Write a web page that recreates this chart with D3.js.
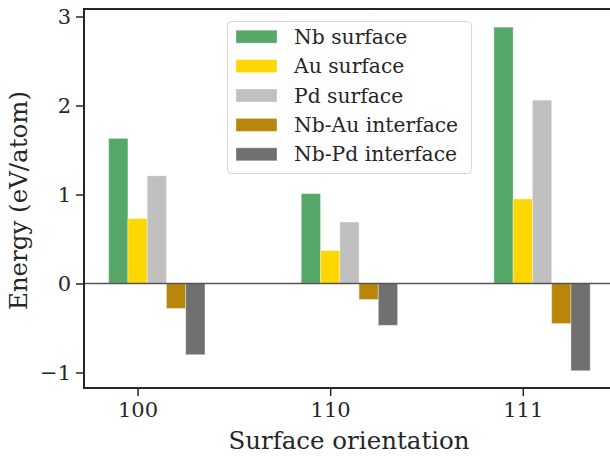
<!DOCTYPE html>
<html>
<head>
<meta charset="utf-8">
<script src="https://cdn.jsdelivr.net/npm/d3@7"></script>
<style>
body { margin: 0; background: #fff; }
svg { display: block; }
text { font-family: "DejaVu Serif", serif; fill: #262626; }
</style>
</head>
<body>
<svg id="chart" width="610" height="458"></svg>
<script>
const categories = ["100", "110", "111"];
const seriesNames = ["Nb surface", "Au surface", "Pd surface", "Nb-Au interface", "Nb-Pd interface"];
const seriesColors = ["#55a868", "#ffd700", "#c0c0c0", "#b8860b", "#707070"];
const nbSurface = [1.63, 1.01, 2.88];
const auSurface = [0.73, 0.37, 0.95];
const pdSurface = [1.21, 0.69, 2.06];
const nbAuInterface = [-0.28, -0.18, -0.45];
const nbPdInterface = [-0.80, -0.47, -0.98];
const yTicks = [-1, 0, 1, 2, 3];

const series = [nbSurface, auSurface, pdSurface, nbAuInterface, nbPdInterface];

const svg = d3.select("#chart");
const L = 84, R = 611, T = 9, B = 388;
const barW = 0.1;

const x = d3.scaleLinear().domain([-0.278, 2.458]).range([L, R]);
const y = d3.scaleLinear().domain([-1.174, 3.084]).range([B, T]);

// bars
series.forEach((vals, i) => {
  svg.append("g").selectAll("rect").data(vals).join("rect")
    .attr("x", (d, j) => x(j + (i - 1) * barW - barW / 2))
    .attr("width", x(barW) - x(0))
    .attr("y", d => y(Math.max(0, d)))
    .attr("height", d => Math.abs(y(d) - y(0)))
    .attr("fill", seriesColors[i])
    .attr("stroke", "rgba(255,255,255,0.35)")
    .attr("stroke-width", 1);
});

// zero line
svg.append("line")
  .attr("x1", L).attr("x2", R)
  .attr("y1", y(0)).attr("y2", y(0))
  .attr("stroke", "#555").attr("stroke-width", 1.5);

// axes
const yAxis = d3.axisLeft(y).tickValues(yTicks).tickSize(8).tickPadding(5)
  .tickFormat(d => d < 0 ? "\u2212" + Math.abs(d) : String(d));
const gy = svg.append("g").attr("transform", `translate(${L},0)`).call(yAxis);
gy.select(".domain").remove();
gy.selectAll(".tick line").attr("stroke", "#262626").attr("stroke-width", 1.5);
gy.selectAll(".tick text").attr("font-size", 21).style("fill", "#262626");

const xAxis = d3.axisBottom(x).tickValues([0, 1, 2]).tickSize(8).tickPadding(6)
  .tickFormat((d, i) => categories[i]);
const gx = svg.append("g").attr("transform", `translate(0,${B})`).call(xAxis);
gx.select(".domain").remove();
gx.selectAll(".tick line").attr("stroke", "#262626").attr("stroke-width", 1.5);
gx.selectAll(".tick text").attr("font-size", 21).style("fill", "#262626");

// spines
svg.append("path")
  .attr("d", `M${R},${T}H${L}V${B}H${R}`)
  .attr("fill", "none").attr("stroke", "#262626").attr("stroke-width", 2);

// axis labels
svg.append("text")
  .attr("x", 349).attr("y", 449)
  .attr("text-anchor", "middle").attr("font-size", 24.5)
  .text("Surface orientation");
svg.append("text")
  .attr("transform", `translate(27,${(T + B) / 2 + 2}) rotate(-90)`)
  .attr("text-anchor", "middle").attr("font-size", 24.5)
  .text("Energy (eV/atom)");

// legend
const lg = svg.append("g");
lg.append("rect")
  .attr("x", 227.5).attr("y", 21.5).attr("width", 244).attr("height", 152)
  .attr("rx", 4).attr("fill", "rgba(255,255,255,0.8)")
  .attr("stroke", "#d6d6d6").attr("stroke-width", 1);
seriesNames.forEach((name, i) => {
  const cy = 36.7 + i * 29.4;
  lg.append("rect")
    .attr("x", 236).attr("y", cy - 6.5).attr("width", 41).attr("height", 13)
    .attr("fill", seriesColors[i])
    .attr("stroke", "rgba(255,255,255,0.35)").attr("stroke-width", 1);
  lg.append("text")
    .attr("x", 294).attr("y", cy).attr("dy", "0.35em")
    .attr("font-size", 20.3).text(name);
});
</script>
</body>
</html>
